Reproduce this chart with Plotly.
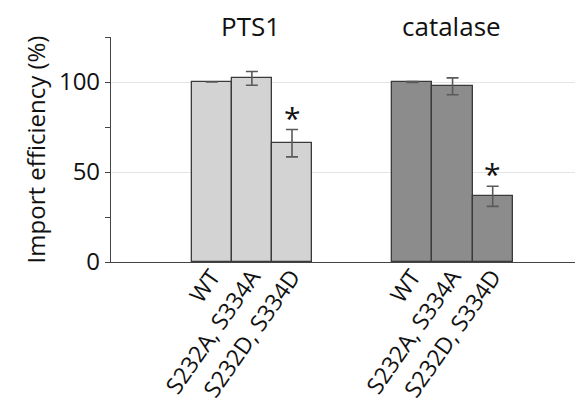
import plotly.graph_objects as go

categories = ["WT", "S232A, S334A", "S232D, S334D"]
groups = ["PTS1", "catalase"]
pts1_values = [100, 102, 66]
pts1_errors = [0, 3.8, 7.6]
catalase_values = [100, 97.6, 36.5]
catalase_errors = [0.2, 4.7, 5.6]
significant = [False, False, True]

pts1_x = [0, 1, 2]
cat_x = [5, 6, 7]

FONT = "Open Sans, sans-serif"
fig = go.Figure()
bar_line = dict(color="#3a3a3a", width=1.3)
err_style = dict(thickness=1.6, width=6, color="#5a5a5a")

fig.add_trace(go.Bar(
    x=pts1_x, y=pts1_values, width=1,
    marker=dict(color="#d3d3d3", line=bar_line),
    error_y=dict(type="data", array=pts1_errors, visible=True, **err_style),
    showlegend=False,
))
fig.add_trace(go.Bar(
    x=cat_x, y=catalase_values, width=1,
    marker=dict(color="#8c8c8c", line=bar_line),
    error_y=dict(type="data", array=catalase_errors, visible=True, **err_style),
    showlegend=False,
))

for xs, vals, errs in [(pts1_x, pts1_values, pts1_errors), (cat_x, catalase_values, catalase_errors)]:
    for xi, v, e, s in zip(xs, vals, errs, significant):
        if s:
            fig.add_annotation(x=xi, y=v + e, text="*", showarrow=False,
                               yanchor="bottom", yshift=-10,
                               font=dict(family=FONT, size=30, color="#111"))

for gx, name in [(1, groups[0]), (6, groups[1])]:
    fig.add_annotation(x=gx, xref="x", y=1.0, yref="paper", text=name,
                       showarrow=False, yanchor="top", yshift=31, xshift=-1,
                       font=dict(family=FONT, size=26, color="#111"))

# page body has an 8px margin; compensate in figure size and margins
fig.update_layout(
    width=575, height=407,
    margin=dict(l=103, r=0, t=29, b=153),
    plot_bgcolor="white", paper_bgcolor="white",
    font=dict(family=FONT, color="#111"),
    bargap=0,
)
fig.update_xaxes(
    range=[-2.51, 9.25],
    tickmode="array", tickvals=pts1_x + cat_x, ticktext=categories + categories,
    tickangle=-55, tickfont=dict(size=23, color="#111"),
    ticklabelstandoff=-9,
    showline=True, linecolor="#444", linewidth=1.2,
    showgrid=False, zeroline=False, ticks="",
)
fig.update_yaxes(
    range=[0, 125],
    tickmode="linear", tick0=0, dtick=50,
    tickfont=dict(size=24, color="#111"),
    ticks="outside", ticklen=5, tickcolor="#444",
    minor=dict(dtick=25, ticks="outside", ticklen=5, tickcolor="#444", showgrid=False),
    showline=True, linecolor="#444", linewidth=1.2,
    showgrid=True, gridcolor="#e4e4e4", gridwidth=1,
    zeroline=False,
    title=dict(text="Import efficiency (%)", font=dict(size=24, color="#111"), standoff=6),
)

fig.write_html("out.html")
